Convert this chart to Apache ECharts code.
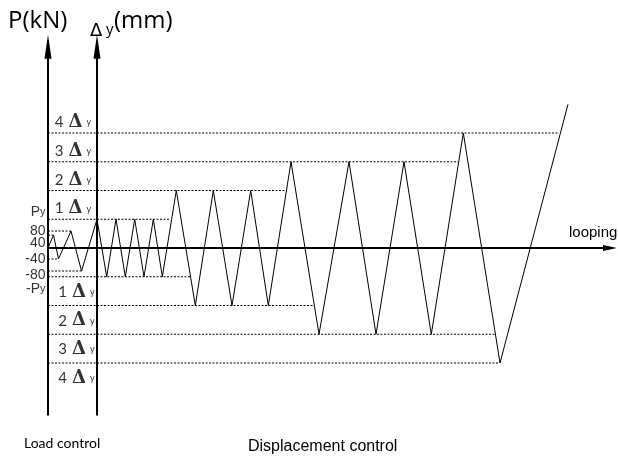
<!DOCTYPE html>
<html><head><meta charset="utf-8">
<script src="https://cdn.jsdelivr.net/npm/echarts@6/dist/echarts.min.js"></script>
<style>html,body{margin:0;padding:0;background:#fff}#c{width:618px;height:456px}</style>
</head><body><div id="c"></div>
<script>
// Loading protocol path: x = loading step (arbitrary units), y = amplitude in multiples of Δy
const pathX = [0, 0.55, 1.05, 2.3, 3.35, 4.9, 5.87, 6.8, 7.73, 8.67, 9.6, 10.53, 11.43, 12.83, 14.73, 16.53, 18.4, 20.27, 22.03, 24.3, 27.1, 30.1, 32.8, 35.6, 38.33, 41.53, 45.2, 52.0];
const pathY = [0, 0.45, -0.38, 0.59, -0.8, 1, -1, 1, -1, 1, -1, 1, -1, 2, -2, 2, -2, 2, -2, 3, -3, 3, -3, 3, -3, 4, -4, 5];
// dotted reference levels and the step where each one ends
const refLevels = [4, 3, 2, 1, 0.59, 0.45, -0.38, -0.8, -1, -2, -3, -4];
const refEnds = [51.0, 41.0, 23.7, 12.2, 2.3, 0.5, 1.05, 3.35, 14.2, 26.5, 44.7, 45.1];
// load control tick labels and their levels
const loadLabels = ['Py', '80', '40', '-40', '-80', '-Py'];
const loadLabelY = [1.25, 0.59, 0.17, -0.38, -0.94, -1.43];
// displacement multiples of Δy
const dispMultiples = [1, 2, 3, 4];

const chart = echarts.init(document.getElementById('c'), null, {renderer: 'canvas'});

const axisCommon = {
  type: 'value', min: -5.8, max: 7,
  axisLine: {show: true, lineStyle: {color: '#000', width: 2}, symbol: ['none', 'triangle'], symbolSize: [7, 24]},
  axisTick: {show: false}, axisLabel: {show: false}, splitLine: {show: false}
};

const refSeries = refLevels.map((lv, i) => ({
  type: 'line', silent: true, showSymbol: false, symbol: 'none',
  data: [[0, lv], [refEnds[i], lv]],
  lineStyle: {color: '#000', width: 1, type: [2, 1.5]}, z: 2
}));

function pyFmt(t) {
  if (t === 'Py') return '{p|P}{s|y}';
  if (t === '-Py') return '{p|-P}{s|y}';
  return '{p|' + t + '}';
}

const deltaData = [];
dispMultiples.forEach(m => {
  deltaData.push({value: [2.5, m + 0.37], name: String(m)});
  deltaData.push({value: [2.85, -m - 0.53], name: String(m)});
});

const option = {
  animation: false,
  backgroundColor: '#fff',
  title: [
    {text: 'P(kN)', left: 8, top: 9, padding: 0, textStyle: {fontFamily: 'Open Sans', fontSize: 24, fontWeight: 'normal', color: '#000'}},
    {text: 'Δ', left: 90, top: 22, padding: 0, textStyle: {fontFamily: 'DejaVu Sans', fontSize: 18, fontWeight: 'normal', color: '#000'}},
    {text: 'y', left: 106, top: 22, padding: 0, textStyle: {fontFamily: 'Open Sans', fontSize: 15, fontWeight: 'normal', color: '#000'}},
    {text: '(mm)', left: 114, top: 9, padding: 0, textStyle: {fontFamily: 'Open Sans', fontSize: 24, fontWeight: 'normal', color: '#000'}},
    {text: 'looping', left: 569, top: 225, padding: 0, textStyle: {fontFamily: 'Liberation Sans', fontSize: 15, fontWeight: 'normal', color: '#000'}},
    {text: 'Load control', left: 24, top: 436, padding: 0, textStyle: {fontFamily: 'Lato', fontSize: 14, fontWeight: 'normal', color: '#000'}},
    {text: 'Displacement control', left: 248, top: 439, padding: 0, textStyle: {fontFamily: 'Liberation Sans', fontSize: 16, fontWeight: 'normal', color: '#000'}}
  ],
  grid: {left: 48, right: 8, top: 46.75, bottom: 41.25},
  xAxis: {
    type: 'value', min: 0, max: 56.2,
    axisLine: {onZero: true, lineStyle: {color: '#000', width: 2}, symbol: ['none', 'triangle'], symbolSize: [6, 14]},
    axisTick: {show: false}, axisLabel: {show: false}, splitLine: {show: false}
  },
  yAxis: [
    Object.assign({}, axisCommon),
    Object.assign({}, axisCommon, {position: 'left', offset: -49})
  ],
  series: [
    ...refSeries,
    {
      type: 'line', silent: true, showSymbol: false, symbol: 'none',
      data: pathX.map((x, i) => [x, pathY[i]]),
      lineStyle: {color: '#000', width: 1}, z: 3
    },
    {
      type: 'scatter', silent: true, symbolSize: 1, itemStyle: {color: 'rgba(0,0,0,0)'},
      data: loadLabels.map((t, i) => ({value: [0, loadLabelY[i]], name: t})),
      label: {
        show: true, position: 'left', distance: 2,
        formatter: p => pyFmt(p.name),
        rich: {
          p: {fontFamily: 'Liberation Sans', fontSize: 14, color: '#000'},
          s: {fontFamily: 'Liberation Sans', fontSize: 11, color: '#000'}
        }
      }, z: 4
    },
    {
      type: 'scatter', silent: true, symbolSize: 1, itemStyle: {color: 'rgba(0,0,0,0)'},
      data: deltaData,
      label: {
        show: true, position: 'inside',
        formatter: p => '{n|' + p.name + '}{d|Δ}{s|y}',
        rich: {
          n: {fontFamily: 'Lato', fontSize: 15, color: '#000'},
          d: {fontFamily: 'DejaVu Serif', fontSize: 18, fontWeight: 'bold', color: '#000', padding: [0, 4, 0, 5]},
          s: {fontFamily: 'Lato', fontSize: 9, color: '#000'}
        }
      }, z: 4
    }
  ]
};
chart.setOption(option);
</script></body></html>
